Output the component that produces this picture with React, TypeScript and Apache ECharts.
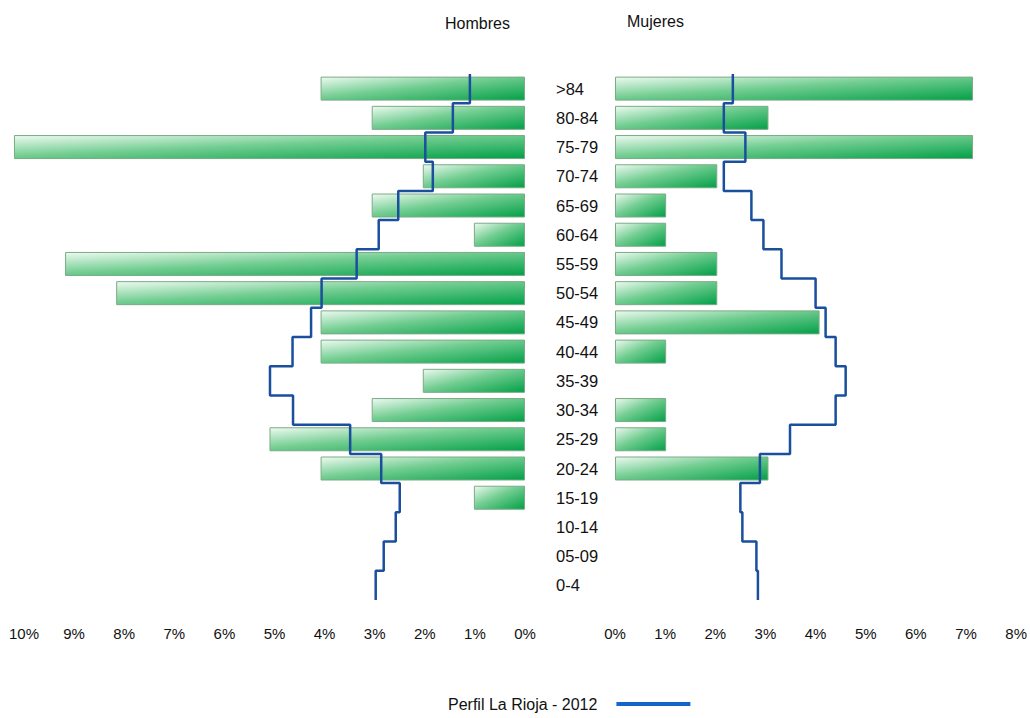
import React, { useEffect, useRef } from "react";
import * as echarts from "echarts";

const categories = [">84", "80-84", "75-79", "70-74", "65-69", "60-64", "55-59", "50-54", "45-49", "40-44", "35-39", "30-34", "25-29", "20-24", "15-19", "10-14", "05-09", "0-4"];
const hombres = [4.08, 3.06, 10.2, 2.04, 3.06, 1.02, 9.18, 8.16, 4.08, 4.08, 2.04, 3.06, 5.1, 4.08, 1.02, 0, 0, 0];
const mujeres = [7.14, 3.06, 7.14, 2.04, 1.02, 1.02, 2.04, 2.04, 4.08, 1.02, 0, 1.02, 1.02, 3.06, 0, 0, 0, 0];
const perfilHombres = [1.1, 1.44, 1.99, 1.84, 2.53, 2.92, 3.36, 4.06, 4.27, 4.64, 5.09, 4.63, 3.49, 2.87, 2.5, 2.58, 2.82, 2.98];
const perfilMujeres = [2.35, 2.17, 2.6, 2.17, 2.72, 2.96, 3.32, 4.0, 4.2, 4.4, 4.6, 4.4, 3.49, 2.89, 2.5, 2.54, 2.82, 2.85];
const leftTicksMax = 10;
const rightTicksMax = 8;
const lineName = "Perfil La Rioja - 2012";

const FONT = "'Liberation Sans', Arial, sans-serif";

function stepPoints(vals: number[]) {
  const pts: number[][] = [];
  vals.forEach((v, i) => {
    pts.push([v, i]);
    pts.push([v, i + 1]);
  });
  return pts;
}

const barData = (vals: number[]) => vals.map((v) => (v === 0 ? "-" : v));

const barFill = () =>
  new echarts.graphic.LinearGradient(0, 0, 1, 1, [
    { offset: 0, color: "#eefaf1" },
    { offset: 0.45, color: "#72cd91" },
    { offset: 1, color: "#02a048" },
  ]);

export default function App() {
  const ref = useRef<HTMLDivElement>(null);
  useEffect(() => {
    if (!ref.current) return;
    const chart = echarts.init(ref.current, null, { renderer: "svg" });
    const tickLabel = {
      formatter: "{value}%",
      fontFamily: FONT,
      fontSize: 15,
      color: "#111",
      margin: 26,
    };
    chart.setOption({
      animation: false,
      backgroundColor: "#ffffff",
      textStyle: { fontFamily: FONT },
      title: [
        { text: "Hombres", left: 445, top: 15.5, padding: 0, textStyle: { fontFamily: FONT, fontSize: 16, fontWeight: "normal", color: "#111" } },
        { text: "Mujeres", left: 627, top: 13, padding: 0, textStyle: { fontFamily: FONT, fontSize: 16, fontWeight: "normal", color: "#111" } },
      ],
      legend: {
        left: 448,
        top: 696,
        padding: 0,
        align: "right",
        icon: "rect",
        itemWidth: 74,
        itemHeight: 4,
        selectedMode: false,
        textStyle: { fontFamily: FONT, fontSize: 16, color: "#111", padding: [0, 14, 0, 0] },
        data: [{ name: lineName, itemStyle: { color: "#1565c8" } }],
      },
      grid: [
        { left: 24, top: 74, width: 501, height: 526 },
        { left: 615, top: 74, width: 403, height: 526 },
      ],
      xAxis: [
        {
          gridIndex: 0, type: "value", min: 0, max: leftTicksMax, interval: 1, inverse: true,
          axisLabel: tickLabel, axisLine: { show: false }, axisTick: { show: false }, splitLine: { show: false },
        },
        {
          gridIndex: 1, type: "value", min: 0, max: rightTicksMax, interval: 1,
          axisLabel: tickLabel, axisLine: { show: false }, axisTick: { show: false }, splitLine: { show: false },
        },
      ],
      yAxis: [
        { gridIndex: 0, type: "category", data: categories, inverse: true, show: false },
        {
          gridIndex: 1, type: "category", data: categories, inverse: true,
          axisLabel: { align: "left", margin: 59, fontFamily: FONT, fontSize: 16.5, color: "#111" },
          axisLine: { show: false }, axisTick: { show: false },
        },
        { gridIndex: 0, type: "value", min: 0, max: categories.length, inverse: true, show: false },
        { gridIndex: 1, type: "value", min: 0, max: categories.length, inverse: true, show: false },
      ],
      series: [
        {
          name: "Hombres", type: "bar", xAxisIndex: 0, yAxisIndex: 0, data: barData(hombres), barWidth: 24, clip: false,
          itemStyle: { color: barFill(), borderColor: "#7aab84", borderWidth: 1 },
        },
        {
          name: "Mujeres", type: "bar", xAxisIndex: 1, yAxisIndex: 1, data: barData(mujeres), barWidth: 24, clip: false,
          itemStyle: { color: barFill(), borderColor: "#7aab84", borderWidth: 1 },
        },
        {
          name: lineName, type: "line", xAxisIndex: 0, yAxisIndex: 2, data: stepPoints(perfilHombres),
          showSymbol: false, symbol: "none", z: 5, lineStyle: { color: "#1a4f9e", width: 2.5 }, itemStyle: { color: "#1565c8" },
        },
        {
          name: lineName, type: "line", xAxisIndex: 1, yAxisIndex: 3, data: stepPoints(perfilMujeres),
          showSymbol: false, symbol: "none", z: 5, lineStyle: { color: "#1a4f9e", width: 2.5 }, itemStyle: { color: "#1565c8" },
        },
      ],
    });
    return () => chart.dispose();
  }, []);
  return <div ref={ref} style={{ position: "absolute", left: 0, top: 0, width: 1030, height: 718 }} />;
}
